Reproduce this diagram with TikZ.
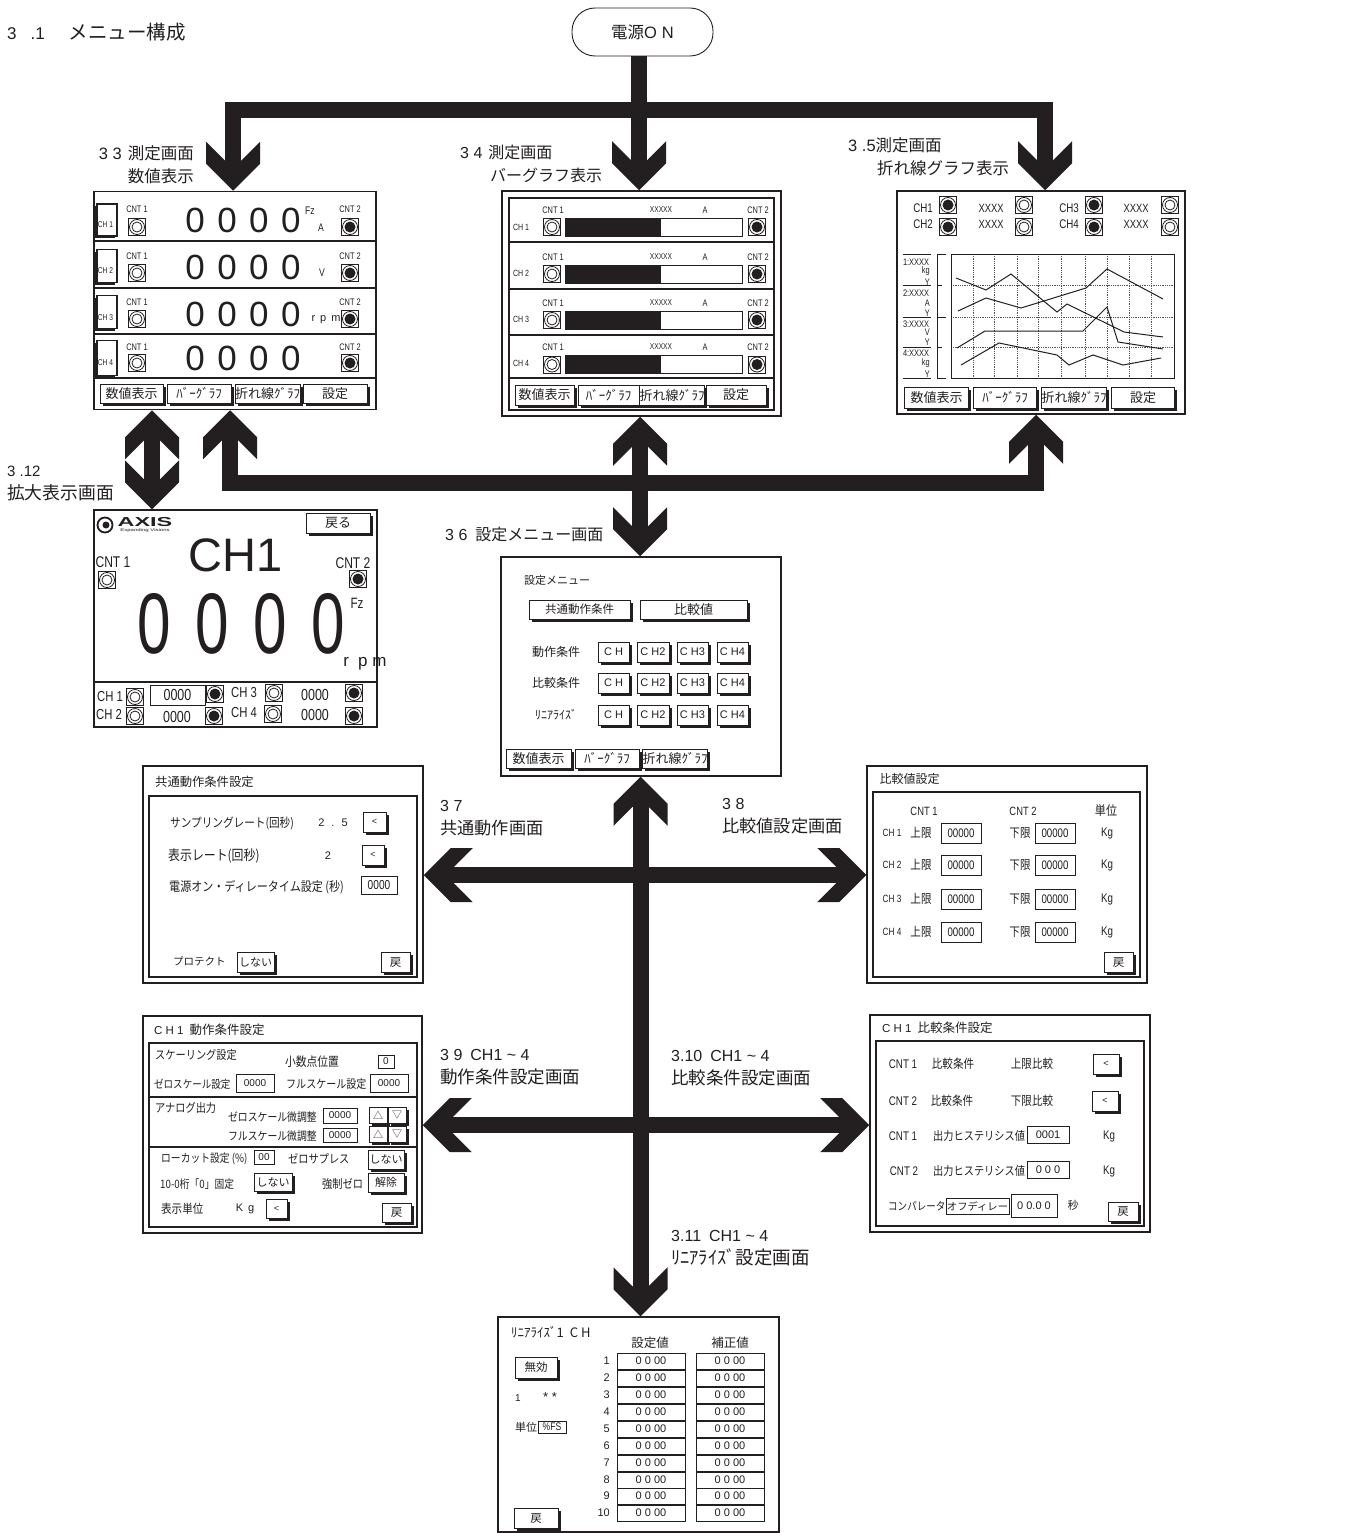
\documentclass[tikz,border=0pt]{standalone}
\usepackage{fontspec}
\setmainfont{Liberation Sans}
\newfontfamily\narrowfont[FakeStretch=0.78]{Liberation Sans}
\newfontfamily\jpfont{Noto Sans CJK JP}
\newfontfamily\jpnarrow[FakeStretch=0.85]{Noto Sans CJK JP}
\usetikzlibrary{shadows}
\definecolor{menuInk}{HTML}{231F20}
\definecolor{menuGrid}{HTML}{555555}
\pgfdeclarearrow{
  name=BlockTip,
  setup code={\pgfarrowssettipend{0pt}\pgfarrowssetbackend{-49pt}\pgfarrowssetlineend{-29pt}\pgfarrowssetvisualbackend{-29pt}},
  drawing code={
    \pgfpathmoveto{\pgfpoint{0pt}{0pt}}
    \pgfpathlineto{\pgfpoint{-27pt}{27pt}}
    \pgfpathlineto{\pgfpoint{-49pt}{27pt}}
    \pgfpathlineto{\pgfpoint{-30pt}{8pt}}
    \pgfpathlineto{\pgfpoint{-30pt}{-8pt}}
    \pgfpathlineto{\pgfpoint{-49pt}{-27pt}}
    \pgfpathlineto{\pgfpoint{-27pt}{-27pt}}
    \pgfpathclose\pgfusepathqfill}
}

\begin{document}
\begin{tikzpicture}[
    x=1pt, y=-1pt,
    every node/.style={inner sep=0pt, text=menuInk},
    fs/.style={font=\fontsize{#1}{#1}\selectfont},
    nr/.style={font=\narrowfont\fontsize{#1}{#1}\selectfont},
    jp/.style={font=\jpfont\fontsize{#1}{#1}\selectfont},
    jn/.style={font=\jpnarrow\fontsize{#1}{#1}\selectfont},
    sec/.style={font=\fontsize{#1}{23}\selectfont, align=left, anchor=west},
    wh/.style 2 args={minimum width=#1pt, minimum height=#2pt},
    screen/.style={draw=menuInk, line width=1.5pt, fill=white},
    panel/.style={draw=menuInk, line width=1.5pt},
    rule/.style={draw=menuInk, line width=1.2pt},
    btn/.style={draw=menuInk, line width=1pt, fill=white, drop shadow={shadow xshift=2.5pt, shadow yshift=-2.5pt, fill=menuInk, opacity=1}},
    chbtn/.style={draw=menuInk, line width=1.2pt, fill=white, drop shadow={shadow xshift=-2pt, shadow yshift=-2pt, fill=menuInk, opacity=1}},
    field/.style={draw=menuInk, line width=.8pt, fill=white},
    ledon/.style={draw=menuInk, line width=.9pt, fill=white, minimum size=17pt, path picture={\draw[menuInk, line width=.8pt] (path picture bounding box.center) circle (7.5pt); \fill[menuInk] (path picture bounding box.center) circle (5.5pt);}},
    ledoff/.style={draw=menuInk, line width=.9pt, fill=white, minimum size=17pt, path picture={\draw[menuInk, line width=.8pt] (path picture bounding box.center) circle (7.5pt) (path picture bounding box.center) circle (5pt);}},
    gridline/.style={densely dotted, menuGrid, line width=.8pt},
    trace/.style={menuInk, line width=1pt},
    bigarrow/.style={draw=menuInk, line width=16pt, line join=miter}
]
    \path[fill=white, use as bounding box] (0,0) rectangle (1351,1533);

    % Title and power pill
    \node[fs=17, anchor=west] (title) at (7,32) {3\hspace{14pt}.1\hspace{24pt}{\jpfont\fontsize{19.5}{19.5}\selectfont メニュー構成}};
    \node[draw=menuInk, line width=.9pt, rounded corners=23pt, wh={141}{48}, fs=16.5] (power) at (642.5,32) {{\jpfont 電源}O\hspace{5pt}N};

    % Numeric screen
    \node[screen, wh={282}{218}] (scrnum) at (235,300.5) {};
    \foreach \yy in {241,288,334,378}
        \draw[rule] (scrnum.west |- 0,\yy) -- (scrnum.east |- 0,\yy);
    \foreach \row/\cy/\ly/\dy/\by/\bh/\ty in {1/209/227/220/220/32/225,2/256/273/267/266/33/271,3/302/319/314/312/33/318,4/347/363/358/358/35/363} {
        \node[chbtn, wh={20}{\bh}] (numch\row) at (107,\by) {};
        \node[nr=8.5] (numchl\row) at (105.5,\ty) {CH \row};
        \node[nr=9.5] (numa\row) at (137,\cy) {CNT 1};
        \node[ledoff] (numla\row) at (137,\ly) {};
        \node[nr=9.5] (numb\row) at (350,\cy) {CNT 2};
        \node[ledon] (numlb\row) at (350,\ly) {};
        \node[font={\fontsize{35}{35}\selectfont\spaceskip=12.5pt\relax}] (numd\row) at (243,\dy) {0 0 0 0};
    }
    \node[nr=11] (numfz) at (310,211) {Fz};
    \node[nr=11] (numuna) at (321,228) {A};
    \node[nr=11] (numunv) at (322,273) {V};
    \node[fs=11] (numunr) at (326,320) {r\hspace{5pt}p\hspace{5pt}m};
    \foreach \key/\xx/\ww/\txt in {a/131.5/63/数値表示,b/199/64/ﾊﾞｰｸﾞﾗﾌ,c/267.5/63/折れ線ｸﾞﾗﾌ,d/335/64/設定}
        \node[btn, jp=13, wh={\ww}{19}] (numbtn\key) at (\xx,393.5) {\txt};

    % Bar graph screen
    \node[screen, wh={279}{225}] (scrbar) at (641.5,303.5) {};
    \node[panel, wh={265}{212}] (barpanel) at (641.5,304) {};
    \foreach \yy in {242,289,335,378}
        \draw[rule] (barpanel.west |- 0,\yy) -- (barpanel.east |- 0,\yy);
    \foreach \row/\cy/\ly/\ty in {1/210/227/227,2/257/274/273,3/303/320/319,4/347/364.5/363} {
        \node[nr=9] (barch\row) at (521,\ty) {CH \row};
        \node[nr=9.5] (bara\row) at (553,\cy) {CNT 1};
        \node[ledoff] (barla\row) at (552,\ly) {};
        \node[field, wh={177}{18}] (bartrack\row) at (653.5,\ly) {};
        \node[fill=menuInk, wh={96}{18}] (barlevel\row) at (613,\ly) {};
        \node[nr=8.5] (barx\row) at (661,\cy) {XXXXX};
        \node[nr=9.5] (barun\row) at (705,\cy) {A};
        \node[nr=9.5] (barb\row) at (758,\cy) {CNT 2};
        \node[ledon] (barlb\row) at (757,\ly) {};
    }
    \foreach \key/\xx/\ww/\txt in {a/544.5/59/数値表示,b/608.5/61/ﾊﾞｰｸﾞﾗﾌ,c/672/60/折れ線ｸﾞﾗﾌ,d/736/60/設定}
        \node[btn, jp=13, wh={\ww}{20}] (barbtn\key) at (\xx,395) {\txt};

    % Line graph screen
    \node[screen, wh={288}{223}] (scrline) at (1041,302.5) {};
    \foreach \row/\txt/\yy/\ly in {1/CH1/208/205,2/CH2/224/227} {
        \node[nr=12.5] (lina\row) at (923,\yy) {\txt};
        \node[ledon] (linla\row) at (948,\ly) {};
        \node[nr=12] (linx\row) at (991,\yy) {XXXX};
        \node[ledoff] (linlb\row) at (1024,\ly) {};
    }
    \foreach \row/\txt/\yy/\ly in {3/CH3/208/205,4/CH4/224/227} {
        \node[nr=12.5] (lina\row) at (1069,\yy) {\txt};
        \node[ledon] (linla\row) at (1094,\ly) {};
        \node[nr=12] (linx\row) at (1136,\yy) {XXXX};
        \node[ledoff] (linlb\row) at (1170,\ly) {};
    }
    \foreach \xx in {973,994,1017,1038,1061,1085,1107,1129,1151}
        \draw[gridline] (\xx,254) -- (\xx,378);
    \foreach \yy in {285,317,347}
        \draw[gridline] (951,\yy) -- (1174,\yy);
    \node[draw=menuInk, line width=.9pt, wh={223}{124}] (graph) at (1062.5,316) {};
    \draw[trace] (956,278) -- (986,290) -- (1011,274) -- (1057,312) -- (1067,304) -- (1124,332) -- (1163,337);
    \draw[trace] (958,311) -- (986,298) -- (1021,308) -- (1086,288) -- (1107,269) -- (1163,299);
    \draw[trace] (957,348) -- (985,331) -- (1083,331) -- (1107,307) -- (1118,342) -- (1163,349);
    \draw[trace] (961,365) -- (999,343) -- (1057,355) -- (1069,365) -- (1093,355) -- (1123,365) -- (1161,358);
    \draw[trace] (946,254) -- (937,254) -- (937,378) -- (946,378);
    \draw[trace] (937,285) -- (942,285) (937,317) -- (946,317) (937,347) -- (942,347);
    \draw[trace] (903,254) -- (931,254) (903,285) -- (931,285) (903,317) -- (931,317) (903,347) -- (931,347) (903,378) -- (931,378);
    \foreach \row/\un/\ya/\yb/\yc in {1/kg/262/271/282,2/A/293/303/313,3/V/324/332/342,4/kg/353/363/374} {
        \node[nr=9.5] (scale\row) at (916,\ya) {\row:XXXX};
        \node[nr=9.5, anchor=east] (unit\row) at (930,\yb) {\un};
        \node[nr=9.5, anchor=east] (tick\row) at (930,\yc) {Y};
    }
    \foreach \key/\xx/\txt in {a/936.5/数値表示,b/1005/ﾊﾞｰｸﾞﾗﾌ,c/1074/折れ線ｸﾞﾗﾌ,d/1143/設定}
        \node[btn, jp=13, wh={63.5}{21}] (linbtn\key) at (\xx,397.5) {\txt};

    % Enlarged screen
    \node[screen, wh={283}{217}] (scrzoom) at (235.5,618.5) {};
    \draw[rule] (scrzoom.west |- 0,682) -- (scrzoom.east |- 0,682);
    \node[circle, draw=menuInk, line width=1.8pt, minimum size=15pt] (logo) at (105,525) {};
    \node[circle, fill=menuInk, minimum size=7pt] (logocore) at (106,525) {};
    \node[font=\bfseries\fontsize{13}{13}\selectfont] (axis) at (145,522.5) {\scalebox{1.8}[1]{AXIS}};
    \node[fs=4] (axissub) at (145,530.5) {\scalebox{1.5}[1]{Expanding Visions}};
    \node[btn, jp=13, wh={64}{20}] (zoomback) at (338,523) {戻る};
    \node[fs=47] (zoomch) at (236,555) {CH1};
    \node[nr=15.5] (zooma) at (113,562) {CNT 1};
    \node[ledoff] (zoomla) at (107,580) {};
    \node[nr=15.5] (zoomb) at (353,563) {CNT 2};
    \node[ledon] (zoomlb) at (358,579) {};
    \node[nr=15] (zoomfz) at (357,603) {Fz};
    \node[font={\fontsize{86}{86}\selectfont\spaceskip=35pt\relax}] (zoomd) at (241,624) {\scalebox{.7}[1]{0 0 0 0}};
    \node[fs=17] (zoomun) at (365,664) {r\hspace{9pt}p\hspace{5pt}m};
    \node[nr=14.5] (zch1) at (110,697) {CH 1};
    \node[nr=14.5] (zch2) at (109,715) {CH 2};
    \node[ledoff] (zl1) at (135,697) {};
    \node[ledoff] (zl2) at (135,716) {};
    \node[field, nr=16, wh={55}{20}] (zv1) at (177.5,695) {0000};
    \node[nr=16] (zv2) at (177,717) {0000};
    \node[ledon] (zm1) at (215,694) {};
    \node[ledon] (zm2) at (214,716) {};
    \node[nr=14.5] (zch3) at (244,693) {CH 3};
    \node[nr=14.5] (zch4) at (244,713) {CH 4};
    \node[ledoff] (zl3) at (274,693) {};
    \node[ledoff] (zl4) at (273,714) {};
    \node[nr=16] (zv3) at (315,695) {0000};
    \node[nr=16] (zv4) at (315,715) {0000};
    \node[ledon] (zm3) at (354,693) {};
    \node[ledon] (zm4) at (354,716) {};

    % Settings menu
    \node[screen, wh={280}{219}] (scrmenu) at (641,666.5) {};
    \node[jp=11] (menuhead) at (557,580) {設定メニュー};
    \node[btn, jp=11.5, wh={101}{19}] (menucommon) at (579.5,609.5) {共通動作条件};
    \node[btn, jp=13, wh={107}{19}] (menucompare) at (693.5,609.5) {比較値};
    \foreach \key/\yy/\txt in {a/652/動作条件,b/683/比較条件,c/715/ﾘﾆｱﾗｲｽﾞ} {
        \node[jp=12] (menulab\key) at (556,\yy) {\txt};
        \node[btn, fs=11, wh={31}{20}] (menuch\key1) at (613.5,\yy) {C H};
        \node[btn, fs=11, wh={32}{20}] (menuch\key2) at (653,\yy) {C H2};
        \node[btn, fs=11, wh={31}{20}] (menuch\key3) at (692.5,\yy) {C H3};
        \node[btn, fs=11, wh={31}{20}] (menuch\key4) at (732.5,\yy) {C H4};
    }
    \foreach \key/\xx/\ww/\txt in {a/538.5/65/数値表示,b/607/64/ﾊﾞｰｸﾞﾗﾌ,c/675/64/折れ線ｸﾞﾗﾌ}
        \node[btn, jp=13, wh={\ww}{19}] (menubtn\key) at (\xx,758.5) {\txt};

    % Common conditions
    \node[screen, wh={280}{217}] (scrcommon) at (283,874.5) {};
    \node[panel, wh={268}{181}] (cmnpanel) at (283,886.5) {};
    \node[jp=12.3, anchor=west] (cmnhead) at (155,782) {共通動作条件設定};
    \node[jn=12.5, anchor=west] (cmnrate) at (170,823) {サンプリングレート(回秒)};
    \node[fs=11] (cmnratev) at (333,823) {2\hspace{7pt}.\hspace{7pt}5};
    \node[btn, fs=9, wh={23}{20}] (cmnratebtn) at (374.5,822) {<};
    \node[jn=14, anchor=west] (cmndisp) at (168,856) {表示レート(回秒)};
    \node[fs=11] (cmndispv) at (328,856) {2};
    \node[btn, fs=9, wh={22}{20}] (cmndispbtn) at (373,855) {<};
    \node[jn=13, anchor=west] (cmndelay) at (169,887) {電源オン・ディレータイム設定 (秒)};
    \node[field, nr=13, wh={36}{18}] (cmndelayv) at (379,885) {0000};
    \node[jp=10.5, anchor=west] (cmnprot) at (173,961) {プロテクト};
    \node[btn, jp=11, wh={37}{20}] (cmnprotbtn) at (255.5,962) {しない};
    \node[btn, jp=11.5, wh={29}{20}] (cmnback) at (395.5,962) {戻};

    % Comparison values
    \node[screen, wh={280}{217}] (scrvalue) at (1007,874.5) {};
    \node[panel, wh={267}{185}] (valpanel) at (1006.5,884.5) {};
    \node[jp=12] (valhead) at (909.5,779) {比較値設定};
    \node[nr=12] (valcnta) at (924,811) {CNT 1};
    \node[nr=12] (valcntb) at (1023,811) {CNT 2};
    \node[jn=13] (valunit) at (1106,811) {単位};
    \foreach \row/\yy in {1/833,2/865,3/899,4/932} {
        \node[nr=10.5] (valch\row) at (892,\yy) {CH \row};
        \node[jn=12.4] (valup\row) at (921,\yy) {上限};
        \node[field, nr=12.4, wh={40}{20}] (valupv\row) at (961,\yy) {00000};
        \node[jn=12.4] (vallo\row) at (1020,\yy) {下限};
        \node[field, nr=12.4, wh={40}{20}] (vallov\row) at (1055,\yy) {00000};
        \node[nr=12.5] (valkg\row) at (1107,\yy) {Kg};
    }
    \node[btn, jp=11.5, wh={29}{20}] (valback) at (1118.5,962) {戻};

    % CH1 operating conditions
    \node[screen, wh={279}{217}] (scrop) at (282.5,1124.5) {};
    \node[panel, wh={268}{184}] (oppanel) at (283,1135) {};
    \foreach \yy in {1097,1147}
        \draw[rule] (oppanel.west |- 0,\yy) -- (oppanel.east |- 0,\yy);
    \node[fs=11.5, anchor=west] (ophead) at (154,1030) {C H 1\hspace{6pt}{\jpfont\fontsize{12.5}{12.5}\selectfont 動作条件設定}};
    \node[jn=12, anchor=west] (opscale) at (155,1055) {スケーリング設定};
    \node[jn=12.7] (opdot) at (312,1062) {小数点位置};
    \node[field, fs=10, wh={16}{13}] (opdotv) at (386,1061.5) {0};
    \node[jn=11.2, anchor=west] (opzero) at (154,1084) {ゼロスケール設定};
    \node[field, fs=10, wh={38}{18}] (opzerov) at (255,1083) {0000};
    \node[jn=11.8, anchor=west] (opfull) at (286,1084) {フルスケール設定};
    \node[field, fs=10, wh={38}{18}] (opfullv) at (389,1083) {0000};
    \node[jn=12, anchor=west] (opana) at (155,1108) {アナログ出力};
    \node[jn=11.6, anchor=east] (opzadj) at (317,1117) {ゼロスケール微調整};
    \node[field, fs=10, wh={34}{15}] (opzadjv) at (340,1115.5) {0000};
    \node[jn=11.6, anchor=east] (opfadj) at (317,1136) {フルスケール微調整};
    \node[field, fs=10, wh={34}{14}] (opfadjv) at (340,1135) {0000};
    \foreach \key/\yy in {a/1115,b/1134} {
        \node[btn, jp=10, wh={18}{16}] (opup\key) at (378,\yy) {△};
        \node[btn, jp=10, wh={18}{16}] (opdn\key) at (397,\yy) {▽};
    }
    \node[jn=11.5, anchor=west] (oplow) at (161,1159) {ローカット設定 (\%)};
    \node[field, fs=10, wh={20}{14}] (oplowv) at (264,1157) {00};
    \node[jn=12, anchor=west] (opsup) at (288,1159) {ゼロサプレス};
    \node[btn, jp=11, wh={36}{19}] (opsupbtn) at (386,1159.5) {しない};
    \node[jn=11.5, anchor=west] (opfix) at (160,1184) {10-0桁「0」固定};
    \node[btn, jp=11, wh={38}{18}] (opfixbtn) at (273,1182) {しない};
    \node[jn=12, anchor=west] (opforce) at (322,1184) {強制ゼロ};
    \node[btn, jp=11, wh={36}{19}] (opforcebtn) at (386,1182.5) {解除};
    \node[jn=12.4, anchor=west] (opunit) at (161,1209) {表示単位};
    \node[fs=11] (opunitv) at (245,1209) {K\hspace{5pt}g};
    \node[btn, fs=9, wh={21}{19}] (opunitbtn) at (276.5,1208.5) {<};
    \node[btn, jp=11.5, wh={29}{19}] (opback) at (396.5,1212.5) {戻};

    % CH1 comparison conditions
    \node[screen, wh={280}{217}] (scrcond) at (1010,1123.5) {};
    \node[panel, wh={268}{185}] (cndpanel) at (1010,1133.5) {};
    \node[fs=11.5, anchor=west] (cndhead) at (882,1028) {C H 1\hspace{6pt}{\jpfont\fontsize{12.5}{12.5}\selectfont 比較条件設定}};
    \node[nr=12.5] (cnda1) at (903,1064) {CNT 1};
    \node[jn=12.4] (cndb1) at (953,1064) {比較条件};
    \node[jn=12.4] (cndc1) at (1032,1064) {上限比較};
    \node[btn, fs=9, wh={26}{20}] (cndbtn1) at (1106,1064) {<};
    \node[nr=12.5] (cnda2) at (903,1101) {CNT 2};
    \node[jn=12.4] (cndb2) at (952,1101) {比較条件};
    \node[jn=12.4] (cndc2) at (1032,1101) {下限比較};
    \node[btn, fs=9, wh={26}{20}] (cndbtn2) at (1105,1101) {<};
    \node[nr=12.5] (cnda3) at (903,1136) {CNT 1};
    \node[jn=12, anchor=west] (cndb3) at (933,1136) {出力ヒステリシス値};
    \node[field, fs=11, wh={42}{17}] (cndv3) at (1048,1134.5) {0001};
    \node[nr=12.5] (cndkg3) at (1109,1136) {Kg};
    \node[nr=12.5] (cnda4) at (904,1171) {CNT 2};
    \node[jn=12, anchor=west] (cndb4) at (933,1171) {出力ヒステリシス値};
    \node[field, fs=11, wh={42}{17}] (cndv4) at (1048,1169.5) {0 0 0};
    \node[nr=12.5] (cndkg4) at (1109,1171) {Kg};
    \node[jn=11.2, anchor=west] (cndcomp) at (888,1206) {コンパレータ};
    \node[field, jp=10.3, wh={63}{16}] (cnddelay) at (977.5,1206) {オフディレー};
    \node[field, fs=11, wh={46}{23}] (cndtime) at (1034,1205.5) {0 0.0 0};
    \node[jp=11] (cndsec) at (1073,1205) {秒};
    \node[btn, jp=11.5, wh={30}{19}] (cndback) at (1123,1211.5) {戻};

    % Linearize table
    \node[screen, wh={281}{215}] (scrlin) at (638.5,1424.5) {};
    \node[jp=13, anchor=west] (linhead) at (511,1332) {ﾘﾆｱﾗｲｽﾞ1\hspace{6pt}C H};
    \node[jp=12.5] (linset) at (650,1343) {設定値};
    \node[jp=12.5] (lincor) at (730,1343) {補正値};
    \foreach \row/\yy in {1/1361,2/1378,3/1395,4/1412,5/1429,6/1446,7/1463,8/1480,9/1496,10/1513} {
        \node[fs=11, anchor=east] (linn\row) at (610,\yy) {\row};
        \node[field, fs=11, wh={68}{16}] (linv\row) at (651,\yy) {0 0 00};
        \node[field, fs=11, wh={68}{16}] (linw\row) at (730,\yy) {0 0 00};
    }
    \node[btn, jp=11.5, wh={42}{21}] (linoff) at (536,1367.5) {無効};
    \node[fs=10] (linone) at (518,1398) {1};
    \node[fs=13] (linstar) at (550,1397) {* *};
    \node[jp=11] (linunit) at (526,1427) {単位};
    \node[field, nr=11, wh={28}{12}] (linunitv) at (552,1427) {\%FS};
    \node[btn, jp=11.5, wh={44}{20}] (linback) at (536,1518) {戻};

    % Section labels
    \node[sec=16.5, anchor=east, align=right] (sec33) at (194,164.5) {3 3\hspace{6pt}{\jpfont 測定画面}\\{\jpfont 数値表示}};
    \node[sec=16] (sec34) at (460,164) {3 4\hspace{6pt}{\jpfont 測定画面}\\\hspace*{30pt}{\jpfont バーグラフ表示}};
    \node[sec=16.5] (sec35) at (848,156.5) {3 .5{\jpfont 測定画面}\\\hspace*{29pt}{\jpfont 折れ線グラフ表示}};
    \node[sec=15] (sec312) at (7,483.5) {3 .12\\{\jpfont\fontsize{17.8}{23}\selectfont 拡大表示画面}};
    \node[sec=16, anchor=west] (sec36) at (445,534) {3 6\hspace{8pt}{\jpfont 設定メニュー画面}};
    \node[sec=16] (sec37) at (440,818.5) {3 7\\{\jpfont\fontsize{17.2}{23}\selectfont 共通動作画面}};
    \node[sec=16] (sec38) at (722,816.5) {3 8\\{\jpfont\fontsize{17.2}{23}\selectfont 比較値設定画面}};
    \node[sec=16] (sec39) at (440,1067.5) {3 9\hspace{8pt}CH1 \textasciitilde{} 4\\{\jpfont\fontsize{17.5}{23}\selectfont 動作条件設定画面}};
    \node[sec=16] (sec310) at (671,1068) {3.10\hspace{8pt}CH1 \textasciitilde{} 4\\{\jpfont\fontsize{17.5}{23}\selectfont 比較条件設定画面}};
    \node[sec=16] (sec311) at (671,1248) {3.11\hspace{8pt}CH1 \textasciitilde{} 4\\{\jpfont\fontsize{18.5}{23}\selectfont ﾘﾆｱﾗｲｽﾞ設定画面}};

    % Block arrows
    \coordinate (topbusl) at (233,110);
    \coordinate (topbusr) at (1045,110);
    \coordinate (topmid) at (639,110);
    \coordinate (lowbusl) at (230,483);
    \coordinate (lowbusr) at (1036,483);
    \coordinate (midx) at (640,483);
    \coordinate (dblx) at (152,460);
    \coordinate (spine) at (640.5,900);
    \coordinate (rowa) at (640,875);
    \coordinate (rowb) at (640,1125);
    \draw[bigarrow, {BlockTip}-{BlockTip}] (scrnum.north -| topbusl) |- (topbusr) -- (scrline.north -| topbusr);
    \draw[bigarrow, -{BlockTip}] (power.south -| topmid) -- (scrbar.north -| topmid);
    \draw[bigarrow, {BlockTip}-{BlockTip}] (scrnum.south -| dblx) -- (scrzoom.north -| dblx);
    \draw[bigarrow, {BlockTip}-{BlockTip}] (scrnum.south -| lowbusl) |- (lowbusr) -- (scrline.south -| lowbusr);
    \draw[bigarrow, {BlockTip}-{BlockTip}] (scrbar.south -| midx) -- (scrmenu.north -| midx);
    \draw[bigarrow, {BlockTip}-{BlockTip}] (scrmenu.south -| spine) -- (scrlin.north -| spine);
    \draw[bigarrow, {BlockTip}-{BlockTip}] (scrcommon.east |- rowa) -- (scrvalue.west |- rowa);
    \draw[bigarrow, {BlockTip}-{BlockTip}] (scrop.east |- rowb) -- (scrcond.west |- rowb);
\end{tikzpicture}
\end{document}
